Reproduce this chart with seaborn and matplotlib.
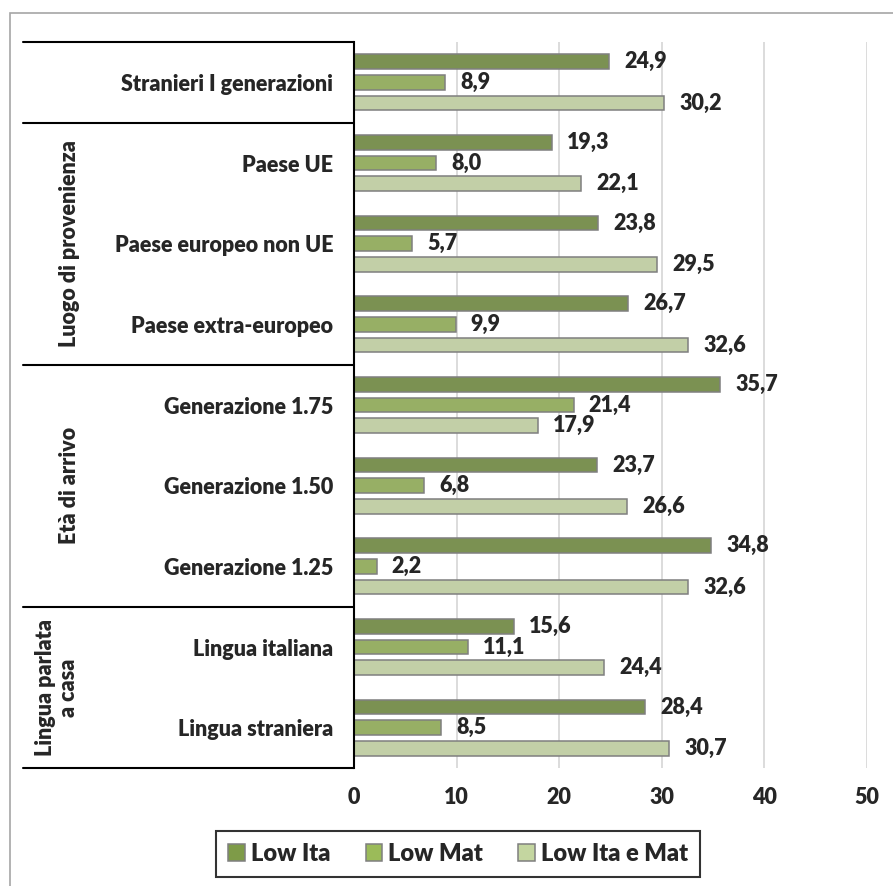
import pandas as pd
import matplotlib
matplotlib.use("Agg")
import matplotlib.pyplot as plt
import seaborn as sns
from matplotlib.patches import Patch, Rectangle
from matplotlib import transforms

# ==== data
categories = [
    "Stranieri I generazioni",
    "Paese UE",
    "Paese europeo non UE",
    "Paese extra-europeo",
    "Generazione 1.75",
    "Generazione 1.50",
    "Generazione 1.25",
    "Lingua italiana",
    "Lingua straniera",
]
low_ita = [24.9, 19.3, 23.8, 26.7, 35.7, 23.7, 34.8, 15.6, 28.4]
low_mat = [8.9, 8.0, 5.7, 9.9, 21.4, 6.8, 2.2, 11.1, 8.5]
low_ita_mat = [30.2, 22.1, 29.5, 32.6, 17.9, 26.6, 32.6, 24.4, 30.7]
series_names = ["Low Ita", "Low Mat", "Low Ita e Mat"]

# groups: (label, first row, last row)
groups = [
    ("Luogo di provenienza", 1, 3),
    ("Età di arrivo", 4, 6),
    ("Lingua parlata\na casa", 7, 8),
]
x_ticks = [0, 10, 20, 30, 40, 50]

colors = ["#7E9B48", "#9BBB59", "#C4D6A0"]
# ====

sns.set_style("white")
plt.rcParams["font.family"] = ["Lato", "DejaVu Sans"]
plt.rcParams["font.weight"] = "heavy"
FW = "heavy"
FS = 15.5

df = pd.DataFrame({
    "cat": categories * 3,
    "val": low_ita + low_mat + low_ita_mat,
    "serie": sum([[s] * len(categories) for s in series_names], []),
})

W, H = 893, 886
fig = plt.figure(figsize=(W / 100, H / 100), dpi=100)
ax = fig.add_axes([354 / W, 1 - 768 / H, 513 / W, 726 / H])

sns.barplot(
    data=df, x="val", y="cat", hue="serie", order=categories,
    hue_order=series_names, palette=colors, orient="h",
    width=0.771, gap=0.3, edgecolor="#7F7F7F", linewidth=1.1,
    legend=False, ax=ax, errorbar=None,
)

for cont in ax.containers:
    ax.bar_label(
        cont, labels=[f"{v:.1f}".replace(".", ",") for v in cont.datavalues],
        padding=11, fontsize=FS, fontweight=FW,
    )

ax.set_xlim(0, 50)
ax.set_ylim(len(categories) - 0.5, -0.5)
ax.set_xticks(x_ticks)
ax.set_xlabel("")
ax.set_ylabel("")
ax.tick_params(axis="x", length=0, pad=14, labelsize=FS)
ax.tick_params(axis="y", length=0, pad=15, labelsize=FS)
for lab in ax.get_xticklabels() + ax.get_yticklabels():
    lab.set_fontweight(FW)
ax.grid(axis="x", color="#D9D9D9", linewidth=1.3)
ax.set_axisbelow(True)
for s in ["top", "right", "bottom"]:
    ax.spines[s].set_visible(False)
ax.spines["left"].set_color("black")
ax.spines["left"].set_linewidth(1.5)

# category table on the left
trans = transforms.blended_transform_factory(ax.transAxes, ax.transData)
x_left = (23 - 354) / 513
for yb in [-0.5, 0.5, 3.5, 6.5, 8.5]:
    ax.plot([x_left, 0], [yb, yb], color="black", lw=1.5,
            transform=trans, clip_on=False)
for label, a, b in groups:
    xc = (57 - 354) / 513 if "\n" in label else (70 - 354) / 513
    ax.text(xc, (a + b) / 2, label, rotation=90, ha="center", va="center",
            fontsize=FS, fontweight=FW, transform=trans,
            linespacing=1.15)

# outer border
fig.patches.append(Rectangle((10 / W, -0.2), 2, 1 - 13 / H + 0.2,
                             transform=fig.transFigure, fill=False,
                             edgecolor="#A6A6A6", lw=1.2))

handles = [Patch(facecolor=c, edgecolor="#7F7F7F", lw=1.1) for c in colors]
leg = fig.legend(handles, series_names, loc="center",
                 bbox_to_anchor=(458 / W, 1 - 854 / H), ncol=3,
                 frameon=True, fancybox=False,
                 handlelength=0.7, handleheight=0.7, handletextpad=0.25,
                 columnspacing=1.5, borderpad=0.5, borderaxespad=0,
                 prop={"weight": FW, "size": 17})
leg.get_frame().set_edgecolor("black")
leg.get_frame().set_linewidth(1.5)

fig.savefig("out.png", dpi=100)
